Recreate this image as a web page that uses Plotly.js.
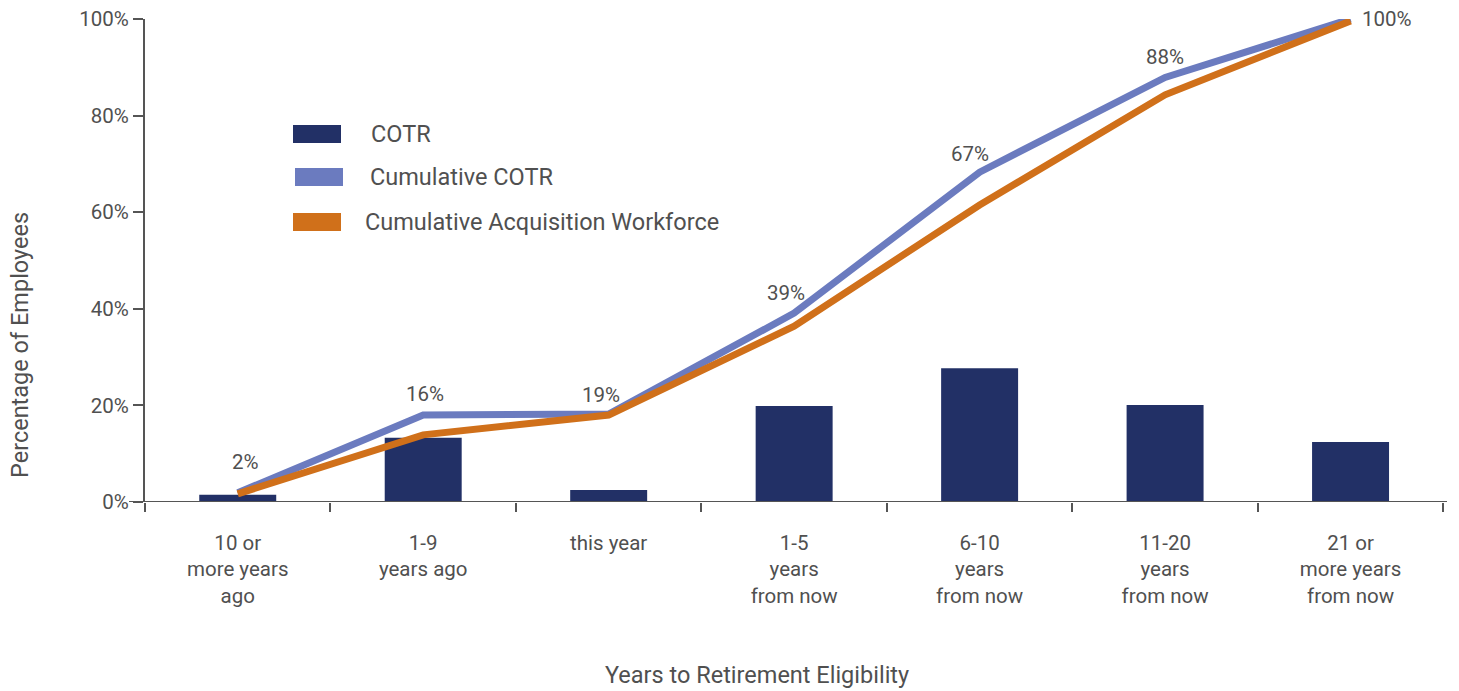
<!DOCTYPE html>
<html>
<head>
<meta charset="utf-8">
<script src="https://cdn.plot.ly/plotly-3.0.1.min.js"></script>
<style>
html,body{margin:0;padding:0;background:#fff;}
#chart{width:1459px;height:691px;}
</style>
</head>
<body>
<div id="chart"></div>
<script>
// ---- data ----
const categories = [
  "10 or<br>more years<br>ago",
  "1-9<br>years ago",
  "this year",
  "1-5<br>years<br>from now",
  "6-10<br>years<br>from now",
  "11-20<br>years<br>from now",
  "21 or<br>more years<br>from now"
];
const cotr = [1.5, 13.3, 2.5, 19.9, 27.7, 20.1, 12.4];
const cumulativeCotr = [1.9, 18.0, 18.2, 39.1, 68.3, 87.9, 100];
const cumulativeAcq = [1.7, 13.9, 18.0, 36.4, 61.5, 84.3, 99.6];
const cumulativeLabels = ["2%", "16%", "19%", "39%", "67%", "88%", "100%"];
const seriesNames = ["COTR", "Cumulative COTR", "Cumulative Acquisition Workforce"];
const yTickVals = [0, 20, 40, 60, 80, 100];
const yTickText = ["0%", "20%", "40%", "60%", "80%", "100%"];

// ---- style ----
const FONT = "Roboto, 'Liberation Sans', sans-serif";
const TXT = "#505050";
const AX = "#555555";
const colors = ["#223066", "#6b7bbf", "#d0701a"];

const W = 1459, H = 691;
const M = {l: 145, r: 12, t: 19, b: 189};
const plotW = W - M.l - M.r, plotH = H - M.t - M.b;
const px = x => (x - M.l) / plotW;
const py = y => (H - M.b - y) / plotH;

const traces = [
  {type: "bar", x: categories, y: cotr, name: seriesNames[0],
   marker: {color: colors[0]}, width: 0.415, hoverinfo: "skip"},
  {type: "scatter", mode: "lines", x: categories, y: cumulativeCotr, name: seriesNames[1],
   line: {color: colors[1], width: 7}, hoverinfo: "skip"},
  {type: "scatter", mode: "lines", x: categories, y: cumulativeAcq, name: seriesNames[2],
   line: {color: colors[2], width: 7}, hoverinfo: "skip"}
];

// data labels on cumulative COTR
const labelShift = [[8, 31], [2, 21], [-8, 19], [-8, 20], [-10, 18], [0, 20], [36, 0]];
const annotations = cumulativeLabels.map((t, i) => ({
  x: categories[i], y: cumulativeCotr[i], xref: "x", yref: "y",
  text: t, showarrow: false, xanchor: "center", yanchor: "middle",
  xshift: labelShift[i][0], yshift: labelShift[i][1],
  font: {family: FONT, size: 20.5, color: TXT}
}));

// axis titles
annotations.push({
  xref: "paper", yref: "paper", x: 0, y: py(345), xshift: -125,
  text: "Percentage of Employees", textangle: -90, showarrow: false,
  xanchor: "center", yanchor: "middle",
  font: {family: FONT, size: 23.5, color: TXT}
});
annotations.push({
  xref: "paper", yref: "paper", x: px(757), y: py(675),
  text: "Years to Retirement Eligibility", showarrow: false,
  xanchor: "center", yanchor: "middle",
  font: {family: FONT, size: 23.5, color: TXT}
});

// custom legend
const legendRows = [
  {x0: 293, x1: 341, yc: 134, tx: 369},
  {x0: 295, x1: 343, yc: 177, tx: 368},
  {x0: 293, x1: 341, yc: 222, tx: 363}
];
const shapes = [];
legendRows.forEach((r, i) => {
  shapes.push({type: "rect", xref: "paper", yref: "paper",
    x0: px(r.x0), x1: px(r.x1), y0: py(r.yc + 9), y1: py(r.yc - 9),
    fillcolor: colors[i], line: {width: 0}});
  annotations.push({xref: "paper", yref: "paper", x: px(r.tx), y: py(r.yc),
    text: seriesNames[i], showarrow: false, xanchor: "left", yanchor: "middle",
    font: {family: FONT, size: 23.5, color: TXT}});
});
// x baseline (extends slightly left of the y axis)
shapes.push({type: "line", xref: "paper", yref: "y",
  x0: px(129), x1: px(1447), y0: 0, y1: 0, line: {color: AX, width: 2}, layer: "above"});

const layout = {
  width: W, height: H,
  margin: M,
  paper_bgcolor: "#fff", plot_bgcolor: "#fff",
  showlegend: false,
  bargap: 0.585,
  font: {family: FONT, color: TXT},
  xaxis: {
    type: "category", range: [-0.5, 6.52],
    showline: false, showgrid: false, zeroline: false,
    ticks: "outside", tickson: "boundaries", ticklen: 9, tickwidth: 2, tickcolor: AX,
    tickfont: {family: FONT, size: 20.5, color: TXT},
    ticklabelstandoff: 26
  },
  yaxis: {
    range: [0, 100], showline: true, linecolor: AX, linewidth: 2,
    showgrid: false, zeroline: false,
    tickvals: yTickVals, ticktext: yTickText,
    ticks: "outside", ticklen: 10, tickwidth: 2, tickcolor: AX,
    tickfont: {family: FONT, size: 20.5, color: TXT}
  },
  shapes: shapes,
  annotations: annotations
};

Plotly.newPlot("chart", traces, layout, {displayModeBar: false, staticPlot: true});
</script>
</body>
</html>
